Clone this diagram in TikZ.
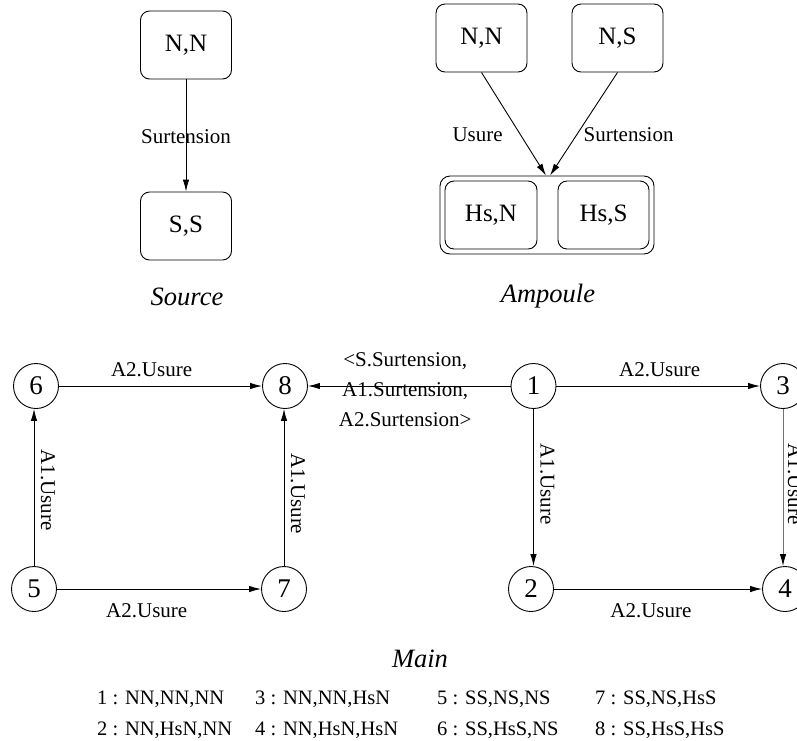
\documentclass[tikz,border=0pt]{standalone}
\usepackage{fontspec}
\setmainfont{Liberation Serif}
\usetikzlibrary{arrows.meta}
\begin{document}
\begin{tikzpicture}[x=1pt,y=-1pt,
  lw/.style={line width=0.9pt},
  arr/.style={lw, -{Latex[length=12pt,width=6.5pt]}},
  box/.style={draw, lw, rounded corners=9pt, minimum width=91pt, minimum height=68pt, inner sep=0pt, font=\fontsize{25}{30}\selectfont},
  st/.style={draw, lw, circle, minimum size=45pt, inner sep=0pt, font=\fontsize{27}{32}\selectfont},
  lab/.style={font=\fontsize{21}{25}\selectfont, inner sep=0pt},
  capt/.style={font=\fontsize{26.5}{30}\selectfont\itshape, anchor=base, inner sep=0pt},
  leg/.style={font=\fontsize{20.5}{24}\selectfont, anchor=base west, inner sep=0pt}]
\useasboundingbox (0,0) rectangle (797,740);

% ---- Source ----
\node[box] (sn) at (186,45) {N,N};
\node[box] (ss) at (186,226) {S,S};
\draw[arr] (sn) -- node[lab, pos=0.513]{Surtension} (ss);
\node[capt] (csrc) at (187,305) {Source};

% ---- Ampoule ----
\node[draw, lw, rounded corners=10pt, minimum width=214pt, minimum height=78pt, inner sep=0pt] (amp) at (547,215) {};
\node[box, minimum width=92pt] (ahn) at (491,215) {Hs,N};
\node[box] (ahs) at (603.5,215) {Hs,S};
\node[box] (ann) at (481.5,38) {N,N};
\node[box] (ans) at (617.5,38) {N,S};
\coordinate (ain1) at ([xshift=-1pt]amp.north);
\coordinate (ain2) at ([xshift=3pt]amp.north);
\draw[arr] (ann.south) -- node[lab, pos=0.606, xshift=-43pt]{Usure} (ain1);
\draw[arr] (ans.south) -- node[lab, pos=0.606, xshift=52pt]{Surtension} (ain2);
\node[capt] (camp) at (548,302) {Ampoule};

% ---- Main ----
\node[st] (n6) at (36,386) {6};
\node[st] (n8) at (285,386) {8};
\node[st] (n5) at (34,589) {5};
\node[st] (n7) at (284,589) {7};
\node[st] (n1) at (533.5,386) {1};
\node[st] (n3) at (783,386) {3};
\node[st] (n2) at (531,589) {2};
\node[st] (n4) at (785,589) {4};

\draw[arr] (n6) -- node[lab, pos=0.456, yshift=16pt]{A2.Usure} (n8);
\draw[arr] (n5) -- node[lab, pos=0.44, yshift=-22pt]{A2.Usure} (n7);
\draw[arr] (n5.north) -- node[lab, pos=0.484, xshift=14pt, rotate=-90]{A1.Usure} (n5.north |- n6.south);
\draw[arr] (n7.north) -- node[lab, pos=0.46, xshift=14pt, rotate=-90]{A1.Usure} (n7.north |- n8.south);
\draw[arr] (n1) -- node[lab, pos=0.52, yshift=-4pt, align=center, font=\fontsize{21}{30}\selectfont]{<S.Surtension,\\A1.Surtension,\\A2.Surtension>} (n8);
\draw[arr] (n1) -- node[lab, pos=0.507, yshift=16pt]{A2.Usure} (n3);
\draw[arr] (n2) -- node[lab, pos=0.466, yshift=-22pt]{A2.Usure} (n4);
\draw[arr] (n1.south) -- node[lab, pos=0.478, xshift=14pt, rotate=-90]{A1.Usure} (n1.south |- n2.north);
\draw[lw, draw=black!55, -{Latex[length=12pt,width=6.5pt,color=black]}] (n3.south) -- node[lab, text=black, pos=0.478, xshift=12pt, rotate=-90]{A1.Usure} (n3.south |- n4.north);

\node[capt] (cmain) at (420,667) {Main};

% ---- legend ----
\node[leg] (l1) at (97,704) {1 : NN,NN,NN};
\node[leg] (l3) at (255,704) {3 : NN,NN,HsN};
\node[leg] (l5) at (437,704) {5 : SS,NS,NS};
\node[leg] (l7) at (595,704) {7 : SS,NS,HsS};
\node[leg] (l2) at (97,735) {2 : NN,HsN,NN};
\node[leg] (l4) at (255,735) {4 : NN,HsN,HsN};
\node[leg] (l6) at (437,735) {6 : SS,HsS,NS};
\node[leg] (l8) at (595,735) {8 : SS,HsS,HsS};
\end{tikzpicture}
\end{document}
